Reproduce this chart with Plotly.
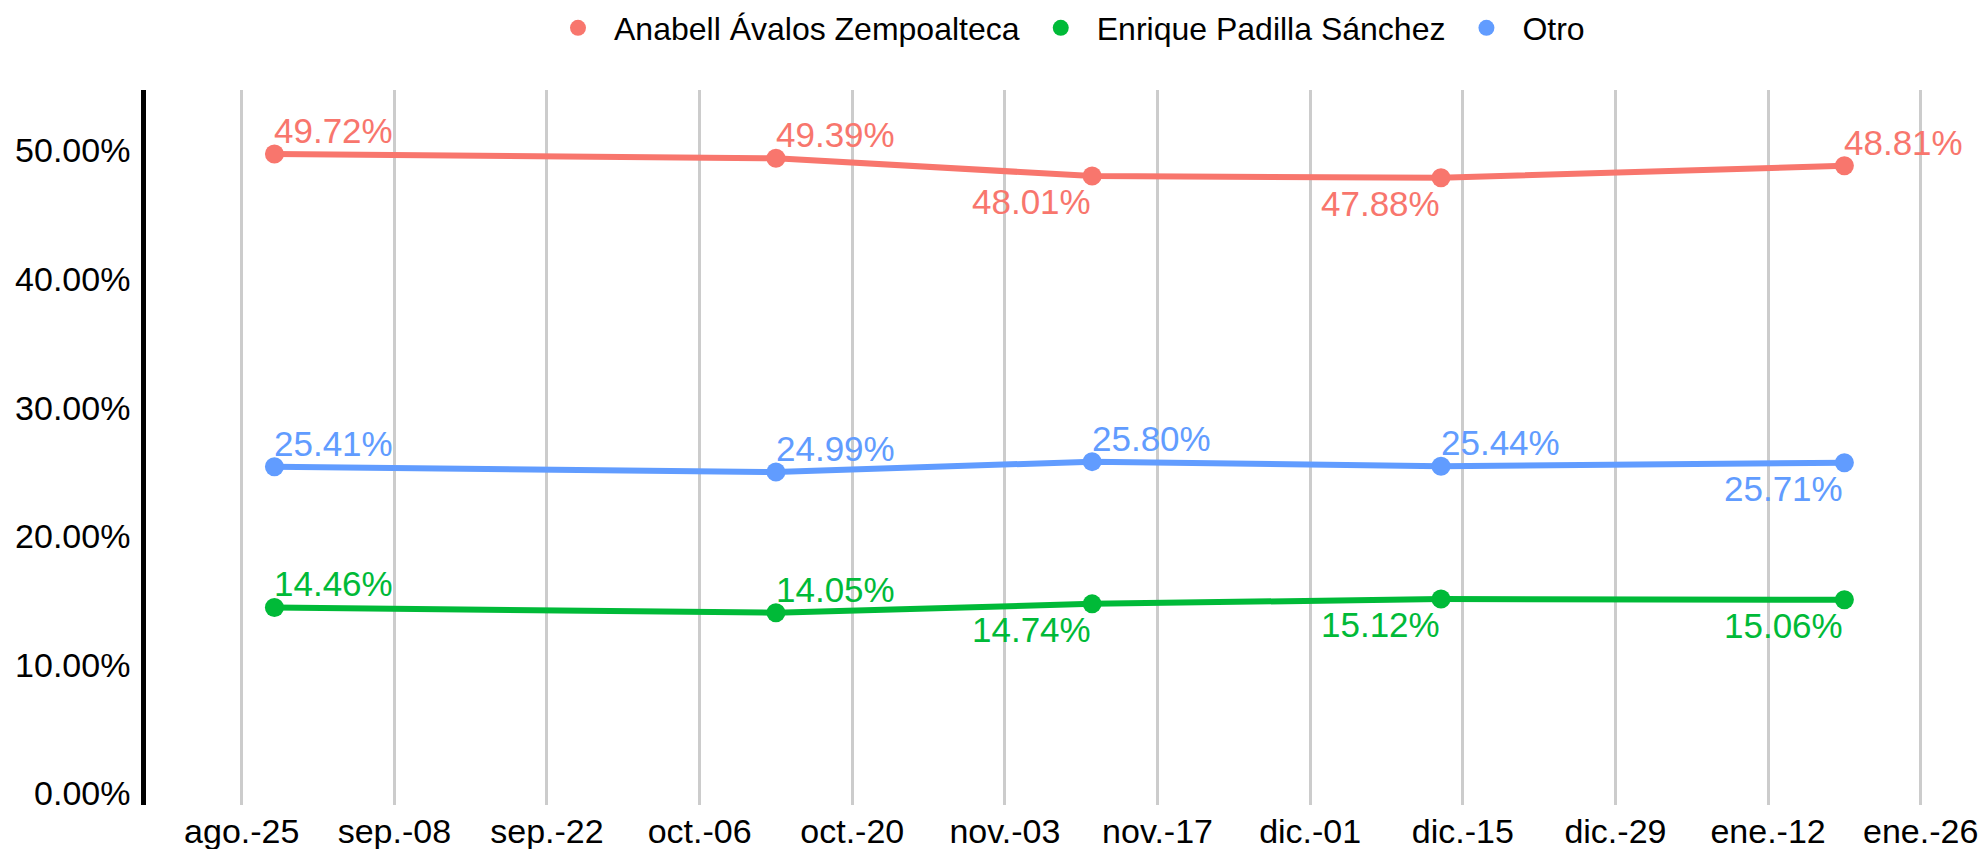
import plotly.graph_objects as go

dates = ["2025-08-28", "2025-10-13", "2025-11-11", "2025-12-13", "2026-01-19"]
series_names = ["Anabell Ávalos Zempoalteca", "Enrique Padilla Sánchez", "Otro"]
anabell = [49.72, 49.39, 48.01, 47.88, 48.81]
enrique = [14.46, 14.05, 14.74, 15.12, 15.06]
otro = [25.41, 24.99, 25.80, 25.44, 25.71]
colors = ["#F8766D", "#00BA38", "#619CFF"]

pos_anabell = ["top right", "top right", "bottom left", "bottom left", "top right"]
pos_enrique = ["top right", "top right", "bottom left", "bottom left", "bottom left"]
pos_otro = ["top right", "top right", "top right", "top right", "bottom left"]

x_tickvals = ["2025-08-25", "2025-09-08", "2025-09-22", "2025-10-06", "2025-10-20",
              "2025-11-03", "2025-11-17", "2025-12-01", "2025-12-15", "2025-12-29",
              "2026-01-12", "2026-01-26"]
x_ticktext = ["ago.-25", "sep.-08", "sep.-22", "oct.-06", "oct.-20", "nov.-03",
              "nov.-17", "dic.-01", "dic.-15", "dic.-29", "ene.-12", "ene.-26"]
y_tickvals = [0, 10, 20, 30, 40, 50]
y_ticktext = ["0.00%", "10.00%", "20.00%", "30.00%", "40.00%", "50.00%"]

FONT = "Arial, 'Liberation Sans', sans-serif"

fig = go.Figure()
# legend-only entries (dots only)
for name, col in zip(series_names, colors):
    fig.add_trace(go.Scatter(
        x=[None], y=[None], name=name, mode="markers",
        marker=dict(color=col, size=16), showlegend=True,
    ))

annotations = []
for name, vals, col, pos in zip(series_names, [anabell, enrique, otro], colors,
                                [pos_anabell, pos_enrique, pos_otro]):
    fig.add_trace(go.Scatter(
        x=dates, y=vals, name=name, mode="lines+markers",
        line=dict(color=col, width=6),
        marker=dict(color=col, size=19),
        showlegend=False, cliponaxis=False,
    ))
    for d, v, p in zip(dates, vals, pos):
        top = p.startswith("top")
        annotations.append(dict(
            x=d, y=v, xref="x", yref="y", text=f"{v:.2f}%", showarrow=False,
            xanchor="left" if top else "right",
            yanchor="bottom" if top else "top",
            xshift=-2 if top else 1,
            yshift=2 if top else -4,
            font=dict(color=col, size=35, family=FONT),
        ))

fig.update_layout(
    width=1985, height=849,
    paper_bgcolor="white", plot_bgcolor="white",
    margin=dict(l=146, r=10, t=90, b=44, autoexpand=False),
    font=dict(family=FONT, size=34, color="black"),
    showlegend=True,
    annotations=annotations,
    legend=dict(orientation="h", x=0.503, xanchor="center", y=1 - 28 / 849,
                yanchor="middle", yref="container",
                font=dict(size=32, color="black"),
                itemwidth=62),
    xaxis=dict(
        type="date", range=["2025-08-16 05:17", "2026-01-30 23:31"],
        tickmode="array", tickvals=x_tickvals, ticktext=x_ticktext,
        showgrid=True, gridcolor="#cccccc", gridwidth=3,
        showline=False, zeroline=False, ticks="", automargin=False,
        ticklabelstandoff=3,
        tickfont=dict(size=34, color="black"),
    ),
    yaxis=dict(
        range=[-0.9, 54.7], tickmode="array", tickvals=y_tickvals, ticktext=y_ticktext,
        showgrid=False, zeroline=False, showline=True, linecolor="black", linewidth=4.5,
        ticks="", automargin=False, ticklabelstandoff=4,
        tickfont=dict(size=34, color="black"),
    ),
)

fig.write_html("out.html", config={"displayModeBar": False},
               post_script="document.body.style.margin='0';document.body.style.overflow='hidden';")
